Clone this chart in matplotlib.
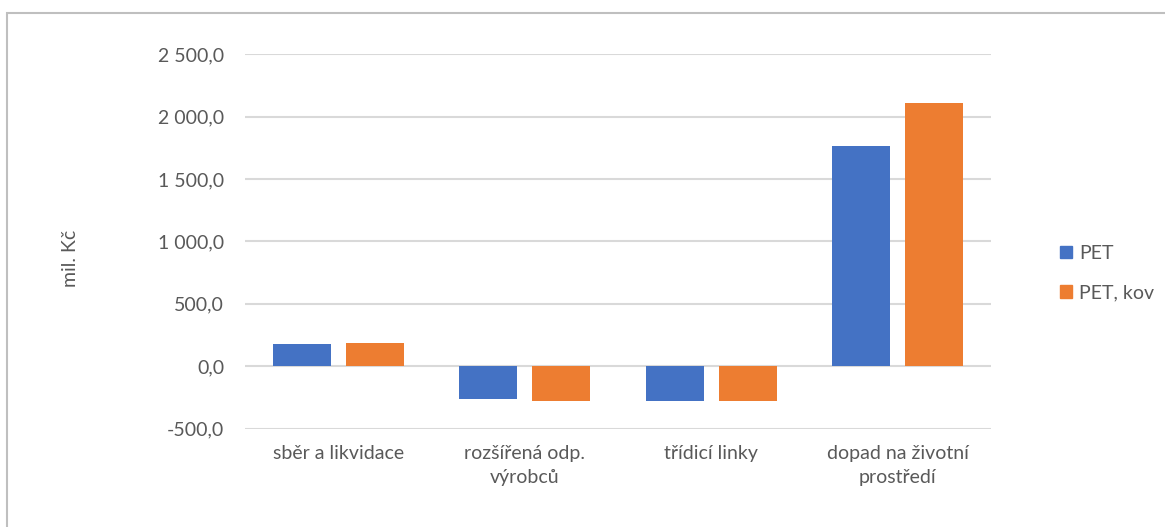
import matplotlib
matplotlib.use("Agg")
import matplotlib.pyplot as plt
import numpy as np
from matplotlib.patches import Patch, Rectangle
from matplotlib.ticker import FuncFormatter, MultipleLocator

# Data
categories = ["sběr a likvidace", "rozšířená odp.\nvýrobců", "třídicí linky",
              "dopad na životní\nprostředí"]
pet = [179, -259, -278, 1767]
pet_kov = [190, -278, -280, 2112]
series_names = ["PET", "PET, kov"]

# Style
COLOR_PET = "#4472C4"
COLOR_KOV = "#ED7D31"
TEXT_COLOR = "#595959"
GRID_COLOR = "#D9D9D9"
FONT = "Lato"

plt.rcParams["font.family"] = [FONT, "DejaVu Sans"]

fig = plt.figure(figsize=(11.65, 5.27), dpi=100)
ax = fig.add_axes([245 / 1165, 1 - 428.6 / 527, 746 / 1165, 374.3 / 527])

# outer chart frame (only left and top visible)
fig.patches.append(Rectangle((7 / 1165, -0.1), 1.2, 1 - 13 / 527 + 0.1,
                             transform=fig.transFigure, fill=False,
                             edgecolor="#BFBFBF", linewidth=1.5))

x = np.arange(len(categories))
bar_w = 0.311
offset = 0.196
ax.bar(x - offset, pet, width=bar_w, color=COLOR_PET, zorder=3)
ax.bar(x + offset, pet_kov, width=bar_w, color=COLOR_KOV, zorder=3)

ax.set_xlim(-0.5, len(categories) - 0.5)
ax.set_ylim(-500, 2500)
ax.yaxis.set_major_locator(MultipleLocator(500))


def cz_fmt(v, pos):
    return f"{v:,.1f}".replace(",", " ").replace(".", ",")


ax.yaxis.set_major_formatter(FuncFormatter(cz_fmt))
ax.grid(axis="y", color=GRID_COLOR, linewidth=1.5, zorder=0)
for s in ax.spines.values():
    s.set_visible(False)

ax.set_xticks(x)
ax.set_xticklabels(categories, linespacing=1.45)
ax.tick_params(axis="both", length=0, labelsize=14, labelcolor=TEXT_COLOR)
ax.tick_params(axis="y", pad=15)
ax.tick_params(axis="x", pad=12)

fig.text(70 / 1165, 1 - 258 / 527, "mil. Kč", rotation=90, ha="center",
         va="center", fontsize=14, color=TEXT_COLOR)

handles = [Patch(color=COLOR_PET), Patch(color=COLOR_KOV)]
fig.legend(handles, series_names, loc="center left",
           bbox_to_anchor=(1042 / 1165, 1 - 273 / 527), frameon=False,
           fontsize=14, labelcolor=TEXT_COLOR, handlelength=0.65,
           handleheight=0.65, handletextpad=0.35, labelspacing=1.15)

fig.savefig("out.png", dpi=100)
